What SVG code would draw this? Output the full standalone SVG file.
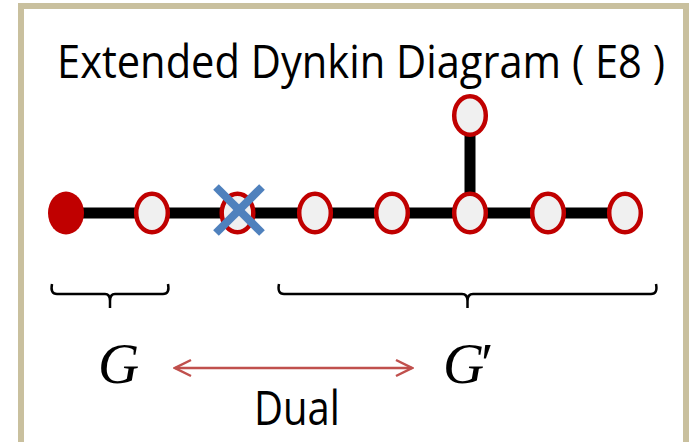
<svg xmlns="http://www.w3.org/2000/svg" width="693" height="442" viewBox="0 0 693 442">
<defs>
<style>
.node{fill:#F0F0F0;stroke:#C00000;stroke-width:4.5}
.edge{stroke:#000;stroke-width:11;fill:none}
.brace{stroke:#000;stroke-width:2.5;fill:none}
.sans{font-family:"Open Sans","Liberation Sans",sans-serif;fill:#000}
.math{font-family:"Liberation Serif","DejaVu Serif",serif;font-style:italic;fill:#000}
</style>
<marker id="ah" viewBox="0 0 20 20" refX="18" refY="10" markerWidth="20" markerHeight="20" markerUnits="userSpaceOnUse" orient="auto-start-reverse">
<path d="M2,2 L18,10 L2,18" fill="none" stroke="#C0504D" stroke-width="2.5"/>
</marker>
</defs>
<rect x="0" y="0" width="693" height="442" fill="#fff"/>
<rect x="21" y="6" width="665" height="445" fill="#fff" stroke="#C9C09E" stroke-width="6"/>
<text class="sans" transform="translate(57 78) scale(0.8 1)" x="0" y="0" font-size="46" textLength="760" lengthAdjust="spacingAndGlyphs">Extended Dynkin Diagram ( E8 )</text>
<g id="connectors">
<line class="edge" x1="66" y1="213" x2="625" y2="213"/>
<line class="edge" x1="470" y1="116" x2="470" y2="213"/>
<line x1="175" y1="368" x2="412" y2="368" stroke="#C0504D" stroke-width="2.5" marker-start="url(#ah)" marker-end="url(#ah)"/>
</g>
<g id="n0"><ellipse cx="66" cy="213" rx="18" ry="21.5" fill="#C00000"/></g>
<g id="n1"><ellipse class="node" cx="152" cy="213" rx="15.8" ry="19.3"/></g>
<g id="n2"><ellipse class="node" cx="237.5" cy="213" rx="15.8" ry="19.3"/></g>
<g id="n3"><ellipse class="node" cx="315" cy="213" rx="15.8" ry="19.3"/></g>
<g id="n4"><ellipse class="node" cx="392" cy="213" rx="15.8" ry="19.3"/></g>
<g id="n5"><ellipse class="node" cx="470" cy="213" rx="15.8" ry="19.3"/></g>
<g id="n6"><ellipse class="node" cx="548" cy="213" rx="15.8" ry="19.3"/></g>
<g id="n7"><ellipse class="node" cx="625" cy="213" rx="15.8" ry="19.3"/></g>
<g id="n8"><ellipse class="node" cx="470" cy="115.5" rx="15.8" ry="19.3"/></g>
<g id="cross" stroke="#4F81BD" stroke-width="8">
<line x1="216" y1="187" x2="262" y2="233"/>
<line x1="262" y1="187" x2="216" y2="233"/>
</g>
<g id="braceG"><path class="brace" d="M52,284 Q50,294 57,294 L105,294 Q110,294 110,301 L110,308 M110,301 Q110,294 115,294 L163,294 Q170,294 168,284"/></g>
<g id="braceG2"><path class="brace" d="M279,284 Q277,294 284,294 L462,294 Q467.5,294 467.5,301 L467.5,308 M467.5,301 Q467.5,294 473,294 L651,294 Q658,294 656,284"/></g>
<text class="math" x="98" y="383" font-size="57">G</text>
<text class="math" x="443" y="383" font-size="57" textLength="47" lengthAdjust="spacing">G′</text>
<text class="sans" transform="translate(254 425) scale(0.85 1)" x="0" y="0" font-size="47" textLength="101" lengthAdjust="spacingAndGlyphs">Dual</text>
</svg>
